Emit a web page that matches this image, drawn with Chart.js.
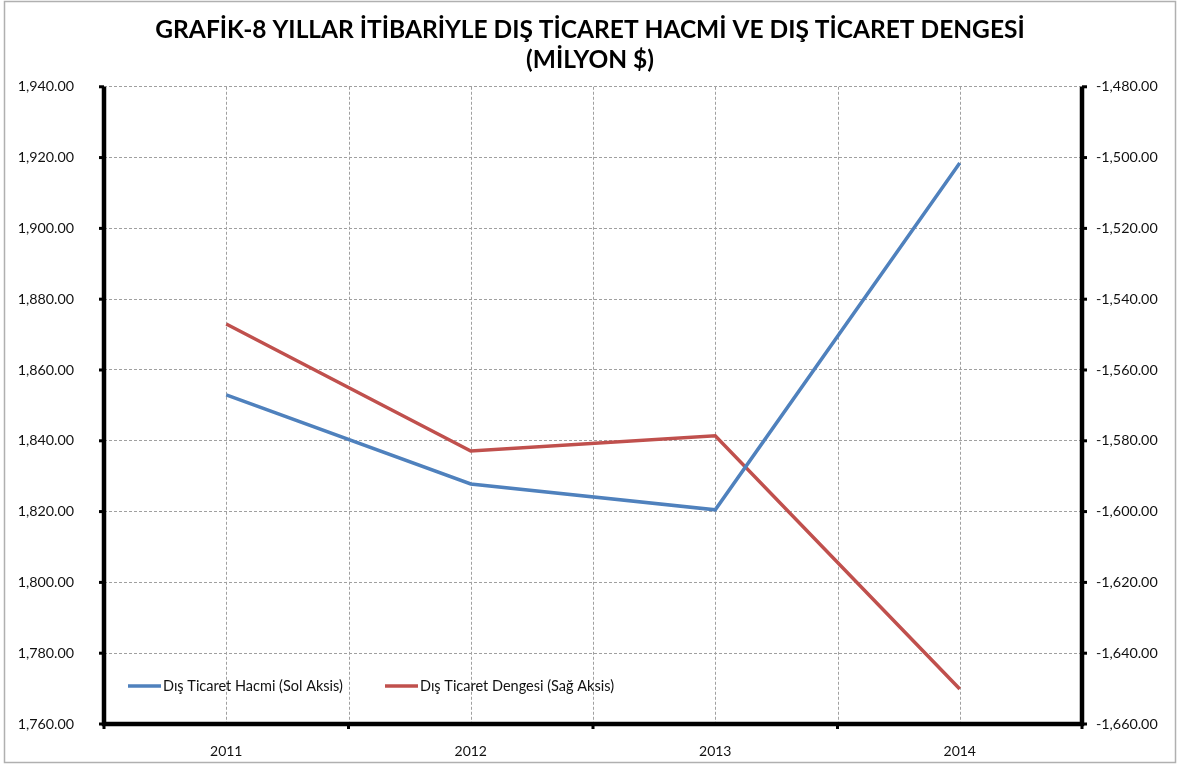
<!DOCTYPE html>
<html>
<head>
<meta charset="utf-8">
<script src="https://cdn.jsdelivr.net/npm/chart.js@4/dist/chart.umd.min.js"></script>
<style>
  body { margin: 0; background: #fff; }
  #wrap { width: 1180px; height: 767px; }
</style>
</head>
<body>
<div id="wrap"><canvas id="graphCanvas"></canvas></div>
<script>
// values
var years = ['2011', '2012', '2013', '2014'];
var hacim = [1853.0, 1827.8, 1820.5, 1918.5];       // Dış Ticaret Hacmi (left axis)
var denge = [-1547.0, -1582.9, -1578.6, -1650.1];   // Dış Ticaret Dengesi (right axis)
var titleLines = ['GRAFİK-8 YILLAR İTİBARİYLE DIŞ TİCARET HACMİ VE DIŞ TİCARET DENGESİ', '(MİLYON $)'];

var FONT = 'Lato, "Open Sans", sans-serif';

function fmt(v) {
    return v.toLocaleString('en-US', { minimumFractionDigits: 2, maximumFractionDigits: 2 });
}

// frame, axes, tick marks, extra vertical grid and the inside legend
var decor = {
    id: 'decor',
    beforeDraw: function (chart) {
        var ctx = chart.ctx;
        ctx.save();
        ctx.strokeStyle = '#b0b0b0';
        ctx.lineWidth = 1.5;
        ctx.strokeRect(4.5, 1.5, 1171, 761);
        ctx.restore();
    },
    beforeDatasetsDraw: function (chart) {
        var ctx = chart.ctx, a = chart.chartArea, x = chart.scales.x;
        ctx.save();
        ctx.strokeStyle = '#a0a0a0';
        ctx.lineWidth = 1;
        ctx.setLineDash([3, 2]);
        var step = x.getPixelForValue(1) - x.getPixelForValue(0);
        for (var i = 0; i < years.length; i++) {
            var px = x.getPixelForValue(i);
            [px, px + step / 2].forEach(function (p) {
                if (p < a.right - 2) {
                    ctx.beginPath();
                    ctx.moveTo(Math.round(p) + 0.5, a.top);
                    ctx.lineTo(Math.round(p) + 0.5, a.bottom);
                    ctx.stroke();
                }
            });
        }
        ctx.restore();
    },
    afterDatasetsDraw: function (chart) {
        var ctx = chart.ctx, a = chart.chartArea;
        var yl = chart.scales.y, yr = chart.scales.y1, x = chart.scales.x;
        ctx.save();
        ctx.strokeStyle = '#000';
        ctx.fillStyle = '#000';
        ctx.lineWidth = 4.5;
        ctx.beginPath();
        ctx.moveTo(a.left, a.top);
        ctx.lineTo(a.left, a.bottom);
        ctx.lineTo(a.right, a.bottom);
        ctx.lineTo(a.right, a.top);
        ctx.stroke();
        // tick marks
        yl.ticks.forEach(function (t) {
            var py = yl.getPixelForValue(t.value);
            ctx.fillRect(a.left - 5, py - 1.5, 5, 3);
        });
        yr.ticks.forEach(function (t) {
            var py = yr.getPixelForValue(t.value);
            ctx.fillRect(a.right, py - 1.5, 5, 3);
        });
        var step = x.getPixelForValue(1) - x.getPixelForValue(0);
        for (var i = 0; i <= years.length; i++) {
            var px = x.getPixelForValue(0) - step / 2 + i * step;
            ctx.fillRect(px - 1.5, a.bottom, 3, 5);
        }
        ctx.restore();
    },
    afterDraw: function (chart) {
        var ctx = chart.ctx;
        var items = [[128, 163], [385, 420]];
        ctx.save();
        ctx.font = '14.5px ' + FONT;
        ctx.textBaseline = 'middle';
        chart.data.datasets.forEach(function (ds, i) {
            var y = 686;
            ctx.strokeStyle = ds.borderColor;
            ctx.lineWidth = 3.5;
            ctx.beginPath();
            ctx.moveTo(items[i][0], y);
            ctx.lineTo(items[i][1] - 2, y);
            ctx.stroke();
            ctx.fillStyle = '#111';
            ctx.fillText(ds.label, items[i][1], y);
        });
        ctx.restore();
    }
};

var chartdata = {
    labels: years,
    datasets: [
        {
            label: 'Dış Ticaret Hacmi (Sol Aksis)',
            data: hacim,
            borderColor: '#4F81BD',
            backgroundColor: '#4F81BD',
            borderWidth: 3.5,
            pointRadius: 0,
            tension: 0,
            yAxisID: 'y'
        },
        {
            label: 'Dış Ticaret Dengesi (Sağ Aksis)',
            data: denge,
            borderColor: '#C0504D',
            backgroundColor: '#C0504D',
            borderWidth: 3.5,
            pointRadius: 0,
            tension: 0,
            yAxisID: 'y1'
        }
    ]
};

var graphTarget = document.getElementById('graphCanvas');

var lineGraph = new Chart(graphTarget, {
    type: 'line',
    data: chartdata,
    plugins: [decor],
    options: {
        responsive: true,
        maintainAspectRatio: false,
        animation: false,
        layout: { padding: { top: 0, left: 0, right: 0, bottom: 0 } },
        plugins: {
            legend: { display: false },
            tooltip: { enabled: false },
            title: {
                display: true,
                text: titleLines,
                color: '#000',
                font: { family: FONT, size: 24.5, weight: 'bold', lineHeight: 1.22 },
                padding: { top: 15, bottom: 12 }
            }
        },
        scales: {
            x: {
                offset: true,
                grid: { display: false },
                border: { display: false },
                ticks: { color: '#111', font: { family: FONT, size: 14 }, padding: 11 },
                afterFit: function (s) { s.height = 43; }
            },
            y: {
                position: 'left',
                min: 1760,
                max: 1940,
                ticks: {
                    stepSize: 20,
                    color: '#111',
                    font: { family: FONT, size: 14.3 },
                    padding: 30,
                    callback: function (v) { return fmt(v); }
                },
                grid: { color: '#a0a0a0', lineWidth: 1, drawTicks: false },
                border: { display: false, dash: [3, 2] },
                afterFit: function (s) { s.width = 104; }
            },
            y1: {
                position: 'right',
                min: -1660,
                max: -1480,
                ticks: {
                    stepSize: 20,
                    color: '#111',
                    font: { family: FONT, size: 14.3 },
                    padding: 14,
                    callback: function (v) { return fmt(v); }
                },
                grid: { display: false, drawTicks: false },
                border: { display: false },
                afterFit: function (s) { s.width = 98; }
            }
        }
    }
});
</script>
</body>
</html>
